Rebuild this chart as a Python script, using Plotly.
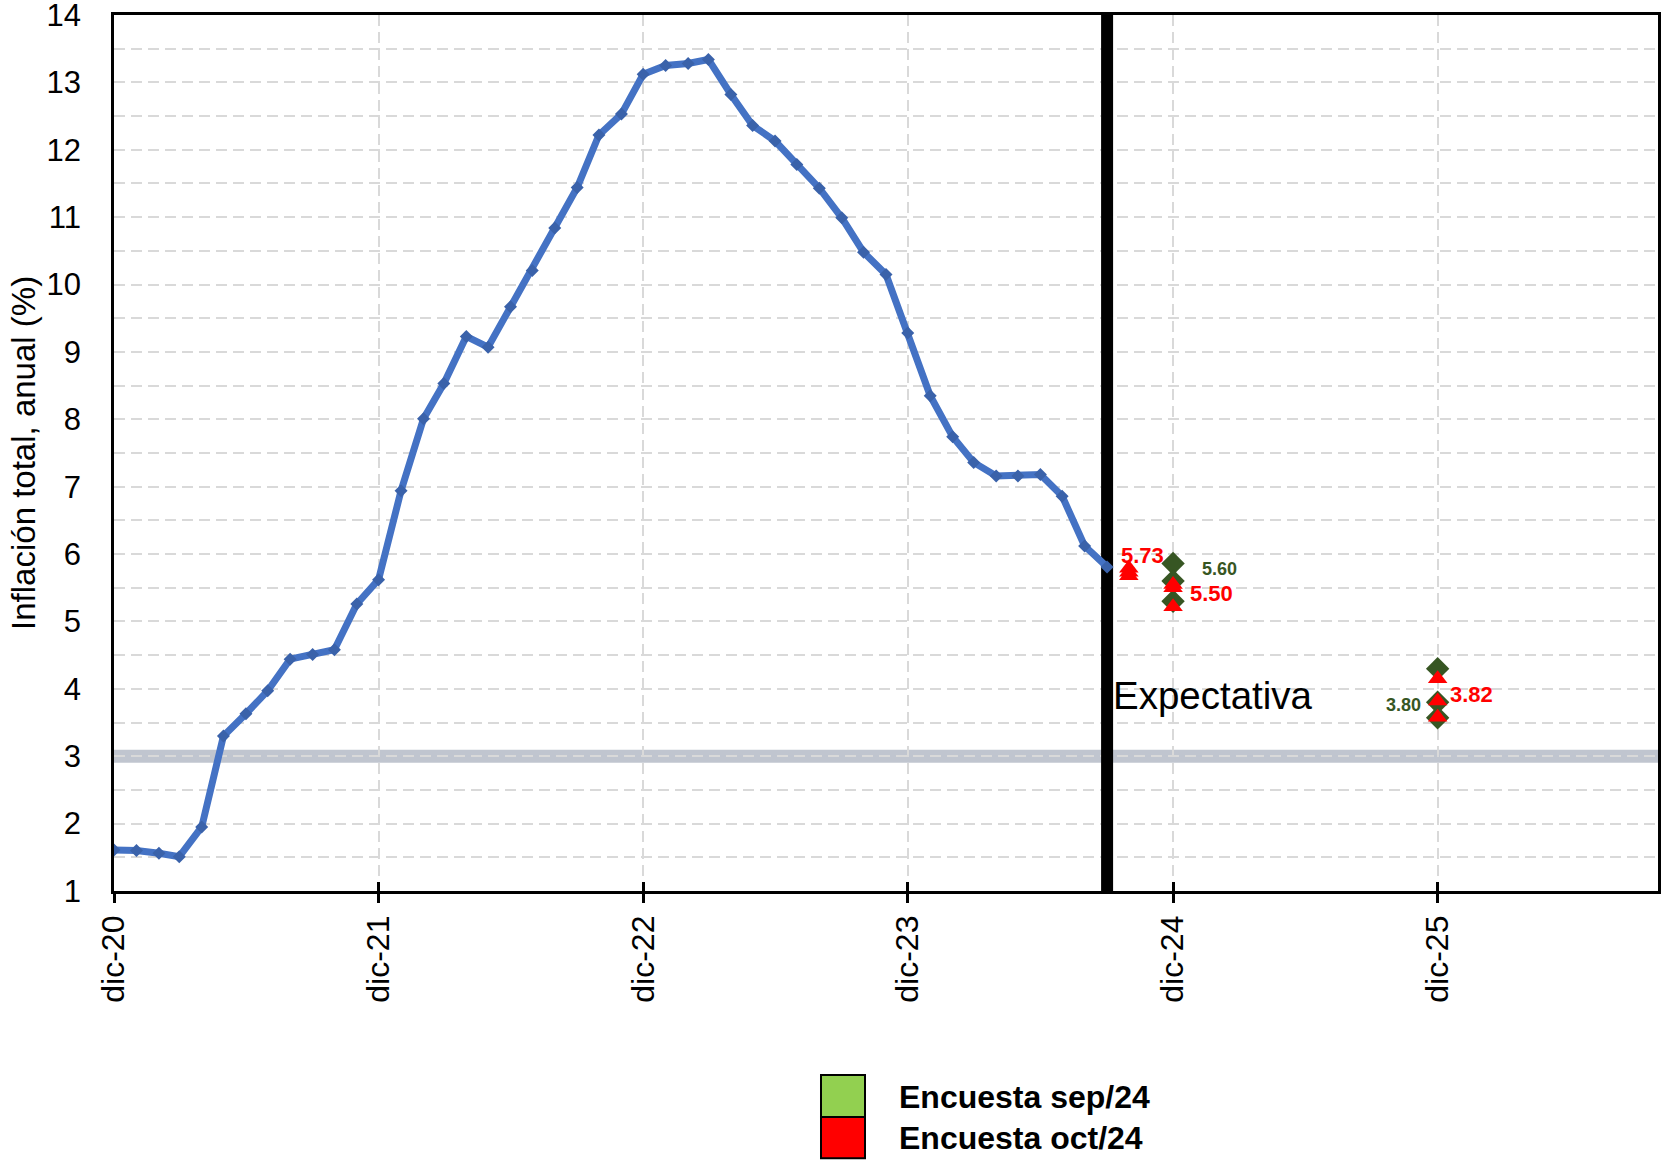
import plotly.graph_objects as go

# ---------------- data ----------------
months = ["2020-12-01", "2021-01-01", "2021-02-01", "2021-03-01", "2021-04-01", "2021-05-01",
          "2021-06-01", "2021-07-01", "2021-08-01", "2021-09-01", "2021-10-01", "2021-11-01",
          "2021-12-01", "2022-01-01", "2022-02-01", "2022-03-01", "2022-04-01", "2022-05-01",
          "2022-06-01", "2022-07-01", "2022-08-01", "2022-09-01", "2022-10-01", "2022-11-01",
          "2022-12-01", "2023-01-01", "2023-02-01", "2023-03-01", "2023-04-01", "2023-05-01",
          "2023-06-01", "2023-07-01", "2023-08-01", "2023-09-01", "2023-10-01", "2023-11-01",
          "2023-12-01", "2024-01-01", "2024-02-01", "2024-03-01", "2024-04-01", "2024-05-01",
          "2024-06-01", "2024-07-01", "2024-08-01", "2024-09-01"]
inflation = [1.61, 1.60, 1.56, 1.51, 1.95, 3.30, 3.63, 3.97, 4.44, 4.51, 4.58, 5.26,
             5.62, 6.94, 8.01, 8.53, 9.23, 9.07, 9.67, 10.21, 10.84, 11.44, 12.22, 12.53,
             13.12, 13.25, 13.28, 13.34, 12.82, 12.36, 12.13, 11.78, 11.43, 10.99, 10.48, 10.15,
             9.28, 8.35, 7.74, 7.36, 7.16, 7.16, 7.18, 6.86, 6.12, 5.81]

# survey expectations (max, median, min)
sep_dates = ["2024-12-01", "2024-12-01", "2024-12-01", "2025-12-01", "2025-12-01", "2025-12-01"]
sep_values = [5.86, 5.60, 5.30, 4.30, 3.80, 3.57]
oct_dates = ["2024-10-01", "2024-10-01", "2024-10-01", "2024-12-01", "2024-12-01", "2024-12-01",
             "2025-12-01", "2025-12-01", "2025-12-01"]
oct_values = [5.79, 5.73, 5.68, 5.55, 5.50, 5.22, 4.15, 3.82, 3.58]

# labelled medians
label_dates = ["2024-10-01", "2024-12-01", "2024-12-01", "2025-12-01", "2025-12-01"]
label_values = [5.73, 5.60, 5.50, 3.82, 3.80]
label_series = ["oct", "sep", "oct", "oct", "sep"]

tick_dates = ["2020-12-01", "2021-12-01", "2022-12-01", "2023-12-01", "2024-12-01", "2025-12-01"]
tick_labels = ["dic-20", "dic-21", "dic-22", "dic-23", "dic-24", "dic-25"]
y_ticks = [1, 2, 3, 4, 5, 6, 7, 8, 9, 10, 11, 12, 13, 14]

legend_labels = ["Encuesta sep/24", "Encuesta oct/24"]
legend_colors = ["#92D050", "#FF0000"]

target = 3.0
cutoff_date = "2024-09-01"
x_range = ["2020-12-01", "2026-10-01"]
y_range = [1, 14]

# ---------------- style ----------------
FONT = "Arial, Liberation Sans, sans-serif"
GREEN_DARK = "#375623"
RED = "#FF0000"
BLUE = "#4472C4"

fig = go.Figure()

# vertical separator (forecast start), drawn below the series
fig.add_trace(go.Scatter(
    x=[cutoff_date, cutoff_date], y=y_range, mode="lines",
    line=dict(color="black", width=12), showlegend=False, hoverinfo="skip"))

fig.add_trace(go.Scatter(
    x=months, y=inflation, mode="lines+markers",
    line=dict(color=BLUE, width=7),
    marker=dict(symbol="diamond", size=10, color="#3A62AA"),
    showlegend=False, hoverinfo="x+y"))

fig.add_trace(go.Scatter(
    x=sep_dates, y=sep_values, mode="markers",
    marker=dict(symbol="diamond", size=18, color=GREEN_DARK),
    name=legend_labels[0], showlegend=False))

fig.add_trace(go.Scatter(
    x=oct_dates, y=oct_values, mode="markers",
    marker=dict(symbol="triangle-up", size=17, color=RED),
    name=legend_labels[1], showlegend=False))

# data labels
label_style = {
    "oct": dict(color=RED, size=22),
    "sep": dict(color=GREEN_DARK, size=18),
}
label_shift = [(14, 17), (46, 12), (38, -6), (34, 6), (-34, -3)]
for d, v, s, (dx, dy) in zip(label_dates, label_values, label_series, label_shift):
    st = label_style[s]
    fig.add_annotation(x=d, y=v, text=f"<b>{v:.2f}</b>", showarrow=False,
                       xshift=dx, yshift=dy,
                       font=dict(family=FONT, size=st["size"], color=st["color"]))

# target band at 3%
fig.add_shape(type="line", xref="paper", x0=0, x1=1, y0=target, y1=target,
              line=dict(color="rgba(150,158,175,0.6)", width=13), layer="between")

fig.add_annotation(x=cutoff_date, y=3.9, text="Expectativa", showarrow=False,
                   xanchor="left", yanchor="middle", xshift=4,
                   font=dict(family=FONT, size=38.5, color="black"))

# y-axis title
fig.add_annotation(xref="paper", yref="paper", x=-0.0590, y=0.5,
                   text="Inflación total, anual (%)", textangle=-90, showarrow=False,
                   xanchor="center", yanchor="middle",
                   font=dict(family=FONT, size=33, color="black"))

# custom legend
sq_x0, sq_x1 = 0.4579, 0.4864
sq_y = [(-0.210, -0.258), (-0.258, -0.305)]
txt_y = [-0.2352, -0.2820]
for lab, col, (ya, yb), ty in zip(legend_labels, legend_colors, sq_y, txt_y):
    fig.add_shape(type="rect", xref="paper", yref="paper", x0=sq_x0, x1=sq_x1, y0=yb, y1=ya,
                  fillcolor=col, line=dict(color="black", width=2))
    fig.add_annotation(xref="paper", yref="paper", x=0.5071, y=ty, text=f"<b>{lab}</b>",
                       showarrow=False, xanchor="left", yanchor="middle",
                       font=dict(family=FONT, size=32, color="black"))

GRID = "#D9D9D9"
fig.update_layout(
    width=1664, height=1161,
    margin=dict(l=114, r=6, t=15, b=270, autoexpand=False),
    paper_bgcolor="white", plot_bgcolor="white",
    font=dict(family=FONT, color="black"),
    showlegend=False,
    xaxis=dict(
        type="date", range=x_range, automargin=False,
        tickmode="array", tickvals=tick_dates, ticktext=tick_labels,
        tickangle=-90, tickfont=dict(size=32, family=FONT, color="black"),
        ticks="outside", ticklen=9, tickwidth=2.5, tickcolor="black",
        showgrid=True, gridcolor=GRID, gridwidth=2, griddash="11px,6px",
        showline=True, linecolor="black", linewidth=2.5, mirror=True,
        zeroline=False),
    xaxis2=dict(
        type="date", range=x_range, overlaying="x", automargin=False,
        tickmode="array", tickvals=tick_dates, ticktext=["" for _ in tick_labels],
        ticks="inside", ticklen=9, tickwidth=2.5, tickcolor="black",
        showgrid=False, showline=False, zeroline=False, side="bottom"),
    yaxis=dict(
        range=y_range, automargin=False, ticklabeloverflow="allow",
        tickmode="array", tickvals=y_ticks, ticktext=[str(t) for t in y_ticks],
        tickfont=dict(size=31, family=FONT, color="black"),
        ticks="outside", ticklen=24, tickcolor="rgba(0,0,0,0)",
        showgrid=True, gridcolor=GRID, gridwidth=2, griddash="11px,6px",
        minor=dict(dtick=0.5, tick0=1, showgrid=True, gridcolor=GRID, gridwidth=2, griddash="11px,6px"),
        showline=True, linecolor="black", linewidth=2.5, mirror=True,
        zeroline=False),
)

# invisible trace to activate xaxis2
fig.add_trace(go.Scatter(x=[x_range[0]], y=[y_range[0]], xaxis="x2", mode="markers",
                         marker=dict(opacity=0), showlegend=False, hoverinfo="skip"))

fig.write_html("out.html", config={"displayModeBar": False},
               post_script="document.body.style.margin='0';document.body.style.padding='0';")
